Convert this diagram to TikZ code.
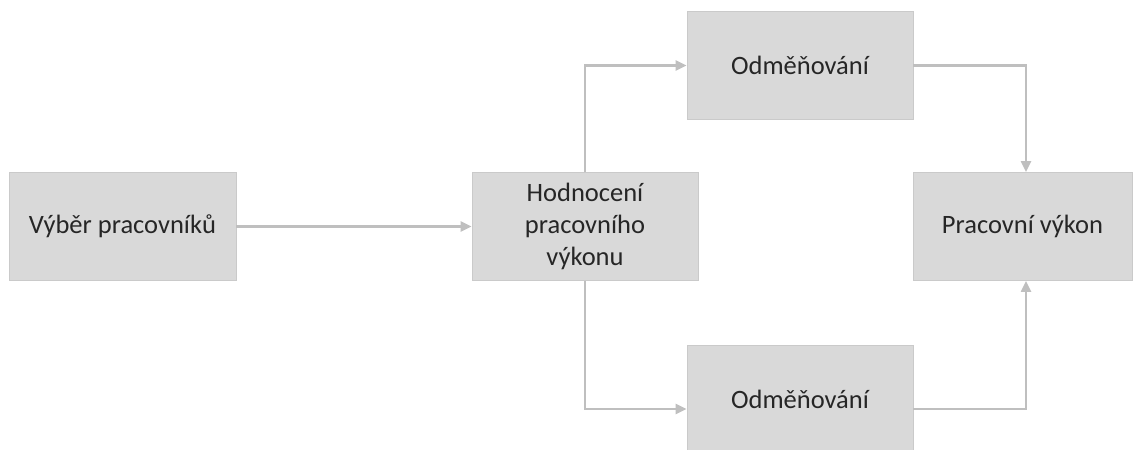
\documentclass[tikz,border=0pt]{standalone}
\usepackage{fontspec}
\setmainfont{Carlito}
\usetikzlibrary{arrows.meta}
\definecolor{boxfill}{HTML}{D9D9D9}
\definecolor{boxedge}{HTML}{CACACA}
\definecolor{linkgray}{HTML}{BFBFBF}
\definecolor{txt}{HTML}{262626}
\begin{document}
\begin{tikzpicture}[x=1pt,y=-1pt,
  stagebox/.style={draw=boxedge, line width=0.8pt, fill=boxfill, text=txt,
    minimum height=108pt, align=center, inner sep=0pt,
    font=\fontsize{26.5}{32}\selectfont},
  link/.style={draw=linkgray, line width=2.2pt,
    -{Triangle[length=11pt,width=10pt]}}]
  \useasboundingbox (0,0) rectangle (1136,450);
  \clip (0,0) rectangle (1136,450);

  \node[stagebox, minimum width=227pt] (vyber) at (122.5,226.5) {Výběr pracovníků};
  \node[stagebox, minimum width=226pt] (hodn) at (585,226.5) {Hodnocení\\pracovního\\výkonu};
  \node[stagebox, minimum width=226pt] (odm1) at (800,65.5) {Odměňování};
  \node[stagebox, minimum width=219pt] (vykon) at (1022.5,226.5) {Pracovní výkon};
  \node[stagebox, minimum width=226pt] (odm2) at (800,399) {Odměňování};

  \draw[link] (vyber.east) -- (hodn.west);
  \draw[link] (hodn.north) |- (odm1.west);
  \draw[link] (hodn.south) |- ([yshift=-10pt]odm2.west);
  \draw[link] (odm1.east) -| ([xshift=3.5pt]vykon.north);
  \draw[link] ([yshift=-10pt]odm2.east) -| ([xshift=3.5pt]vykon.south);
\end{tikzpicture}
\end{document}
